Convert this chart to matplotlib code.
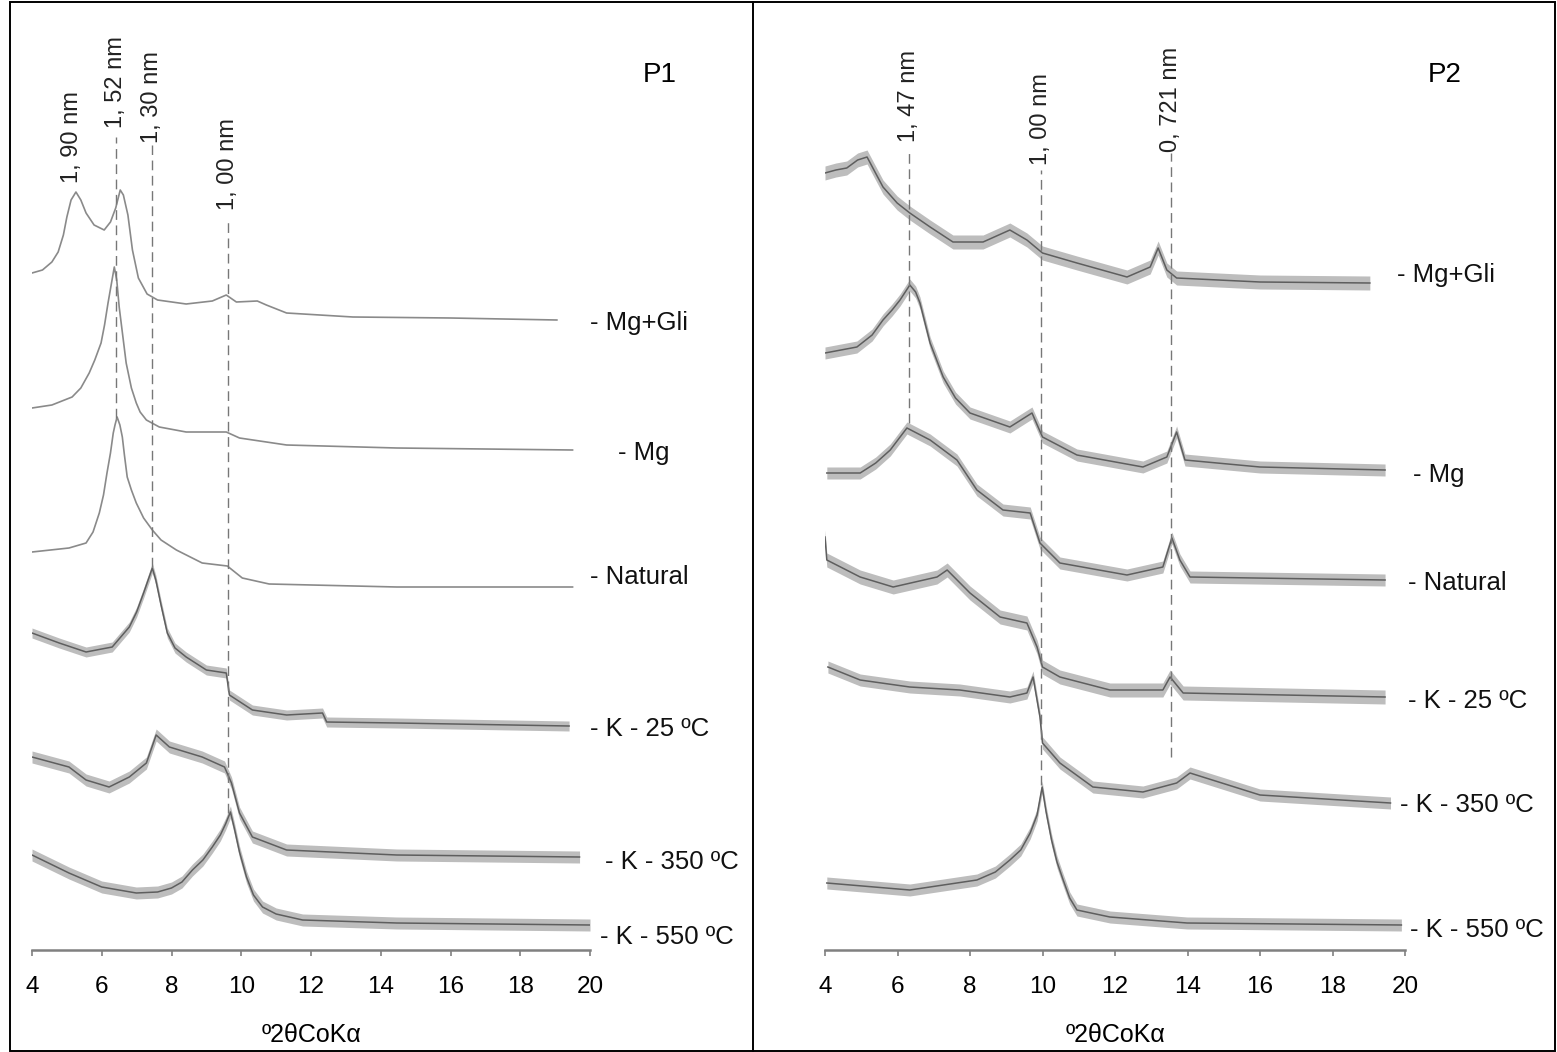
import matplotlib
matplotlib.use('Agg')
import matplotlib.pyplot as plt
from matplotlib.lines import Line2D
from matplotlib.patches import Rectangle

plt.rcParams['font.family'] = ['Liberation Sans', 'DejaVu Sans']

# P1 diffractograms (2theta CoKa, offset intensity in a.u.)
p1_mggli_2t = [4.0, 4.3, 4.57, 4.75, 4.9, 5.0, 5.12, 5.26, 5.4, 5.55, 5.78, 6.07, 6.25, 6.4,
               6.53, 6.62, 6.75, 6.88, 7.05, 7.3, 7.6, 8.42, 9.17, 9.57, 9.86, 10.46, 10.72,
               11.30, 13.2, 16.0, 19.05]
p1_mggli_i = [677, 680, 688, 698, 715, 733, 750, 758, 750, 737, 725, 720, 728, 742,
              760, 755, 735, 700, 672, 656, 650, 646, 649, 655, 648, 649, 645,
              637, 633, 632, 630]

p1_mg_2t = [4.0, 4.57, 5.15, 5.4, 5.64, 5.8, 5.98, 6.08, 6.18, 6.27, 6.36, 6.43, 6.50, 6.6,
            6.70, 6.85, 6.99, 7.1, 7.28, 7.65, 8.42, 9.57, 9.95, 11.3, 14.46, 19.5]
p1_mg_i = [542, 545, 553, 562, 577, 590, 607, 625, 647, 665, 683, 670, 643, 615,
           587, 562, 547, 538, 530, 523, 518, 518, 512, 505, 502, 500]

p1_nat_2t = [4.0, 5.06, 5.55, 5.75, 5.93, 6.05, 6.15, 6.25, 6.33, 6.38, 6.44, 6.52, 6.59,
             6.65, 6.73, 6.85, 6.99, 7.2, 7.45, 7.7, 8.14, 8.88, 9.6, 10.03, 10.8, 14.46, 19.5]
p1_nat_i = [398, 402, 407, 418, 437, 455, 477, 497, 517, 525, 533, 525, 513,
            495, 473, 460, 447, 432, 420, 410, 400, 387, 384, 372, 366, 363, 363]

p1_k25_2t = [4.0, 4.78, 5.55, 6.3, 6.79, 7.0, 7.2, 7.35, 7.45, 7.55, 7.7, 7.88, 8.1, 8.42,
             9.0, 9.57, 9.66, 10.32, 11.3, 12.33, 12.45, 14.46, 19.4]
p1_k25_i = [317, 307, 298, 303, 323, 338, 357, 372, 382, 370, 345, 317, 302, 293,
            280, 277, 255, 240, 235, 237, 228, 227, 224]

p1_k350_2t = [4.0, 5.06, 5.55, 6.21, 6.79, 7.28, 7.56, 7.94, 8.88, 9.52, 9.72, 9.95, 10.32,
              11.3, 14.46, 19.7]
p1_k350_i = [193, 183, 170, 163, 173, 187, 215, 203, 193, 183, 167, 137, 113, 100, 95, 93]

p1_k550_2t = [4.0, 5.06, 6.0, 6.99, 7.6, 8.0, 8.3, 8.6, 8.9, 9.17, 9.4, 9.55, 9.69, 9.8, 9.95,
              10.15, 10.35, 10.61, 11.0, 11.76, 14.46, 20.0]
p1_k550_i = [95, 77, 63, 57, 58, 62, 68, 80, 90, 103, 115, 126, 138, 122, 98,
             73, 55, 43, 36, 30, 27, 25]

# P2 diffractograms
p2_mggli_2t = [4.0, 4.3, 4.6, 4.9, 5.16, 5.35, 5.6, 5.99, 6.34, 6.9, 7.53, 8.36, 9.1, 9.57,
               10.0, 10.95, 12.33, 12.97, 13.19, 13.43, 13.7, 16.0, 19.03]
p2_mggli_i = [777, 780, 782, 790, 793, 780, 763, 747, 737, 723, 708, 708, 720, 710,
              697, 687, 673, 683, 702, 680, 672, 668, 667]

p2_mg_2t = [4.0, 4.88, 5.3, 5.6, 5.85, 6.07, 6.34, 6.5, 6.62, 6.9, 7.26, 7.6, 8.0, 9.1, 9.71,
            10.0, 10.95, 12.77, 13.43, 13.7, 13.93, 16.0, 19.45]
p2_mg_i = [597, 603, 615, 630, 640, 650, 665, 658, 647, 607, 573, 552, 537, 523, 537,
           513, 495, 483, 493, 518, 490, 483, 480]

p2_nat_2t = [4.05, 4.97, 5.4, 5.8, 6.26, 6.9, 7.64, 8.19, 8.91, 9.66, 9.93, 10.48, 12.33,
             13.32, 13.57, 13.79, 14.07, 19.45]
p2_nat_i = [477, 477, 487, 500, 522, 510, 490, 460, 440, 437, 407, 387, 375,
            383, 412, 390, 373, 370]

p2_k25_2t = [4.0, 4.05, 4.97, 5.88, 7.09, 7.37, 8.0, 8.83, 9.57, 9.85, 10.0, 10.48, 11.86,
             13.32, 13.52, 13.88, 19.45]
p2_k25_i = [413, 390, 373, 363, 373, 380, 357, 333, 327, 303, 283, 273, 260, 260, 273, 257, 253]

p2_k350_2t = [4.08, 4.97, 6.34, 7.72, 9.1, 9.57, 9.74, 9.93, 10.0, 10.48, 11.39, 12.77, 13.7,
              14.07, 16.0, 19.6]
p2_k350_i = [283, 270, 263, 260, 253, 257, 273, 233, 207, 187, 163, 158, 167, 177, 155, 147]

p2_k550_2t = [4.05, 6.34, 8.19, 8.7, 9.1, 9.4, 9.66, 9.85, 9.99, 10.1, 10.25, 10.4, 10.57,
              10.75, 10.95, 11.86, 13.99, 19.9]
p2_k550_i = [67, 60, 70, 78, 90, 100, 117, 135, 163, 138, 110, 88, 70,
             52, 40, 33, 27, 25]

treatments = ['- Mg+Gli', '- Mg', '- Natural', '- K - 25 ºC', '- K - 350 ºC', '- K - 550 ºC']

# basal spacings marked on each panel: label, 2theta, top and bottom of the guide line
p1_peaks = ['1, 90 nm', '1, 52 nm', '1, 30 nm', '1, 00 nm']
p1_peak_2t = [5.15, 6.41, 7.45, 9.63]
p1_guide_top = [None, 813, 805, 732]
p1_guide_bot = [None, 532, 383, 137]

p2_peaks = ['1, 47 nm', '1, 00 nm', '0, 721 nm']
p2_peak_2t = [6.32, 9.96, 13.55]
p2_guide_top = [802, 780, 797]
p2_guide_bot = [527, 165, 193]

W, H = 1557, 1052
fig = plt.figure(figsize=(W / 100, H / 100), dpi=100)

# outer frame and divider
fig.add_artist(Rectangle((10 / W, 1 / H), 1545 / W, 1049 / H, transform=fig.transFigure,
                         fill=False, ec='black', lw=1.4))
fig.add_artist(Line2D([753 / W, 753 / W], [1 / H, 1050 / H], transform=fig.transFigure,
                      color='black', lw=1.4))


def panel(rect, traces, fuzz, lab_pos, peaks, peak_2t, lab_bot, g_top, g_bot, title, title_pos):
    ax = fig.add_axes(rect)
    ax.set_xlim(4, 20)
    ax.set_ylim(0, 940)
    for (x, y), f in zip(traces, fuzz):
        if f > 2:
            ax.fill_between(x, [v - f for v in y], [v + f for v in y], color='#bdbdbd', lw=0)
            ax.plot(x, y, color='#5e5e5e', lw=1.1)
        else:
            ax.plot(x, y, color='#8a8a8a', lw=1.2)
    for name, (lx, ly) in zip(treatments, lab_pos):
        ax.text(lx, ly, name, fontsize=18.5, va='center', ha='left', color='#111111')
    for lab, x, b, top, bot in zip(peaks, peak_2t, lab_bot, g_top, g_bot):
        ax.text(x, b, lab, rotation=90, ha='center', va='bottom', fontsize=17, color='#222222')
        if top is not None:
            ax.plot([x, x], [bot, top], color='#777777', lw=1, ls=(0, (7, 4)))
    ax.text(title_pos[0], title_pos[1], title, fontsize=20, ha='center', va='center')

    for s in ['left', 'right', 'top']:
        ax.spines[s].set_visible(False)
    ax.spines['bottom'].set_color('#808080')
    ax.spines['bottom'].set_linewidth(1.8)
    ax.set_yticks([])
    ax.set_xticks(range(4, 21, 2))
    ax.tick_params(axis='x', direction='out', length=4, width=1.2, color='#808080',
                   labelsize=17.5, pad=15)
    ax.set_xlabel('º2θCoKα', fontsize=18, labelpad=18)
    return ax


panel([32 / W, 102 / H, 558 / W, 940 / H],
      [(p1_mggli_2t, p1_mggli_i), (p1_mg_2t, p1_mg_i), (p1_nat_2t, p1_nat_i),
       (p1_k25_2t, p1_k25_i), (p1_k350_2t, p1_k350_i), (p1_k550_2t, p1_k550_i)],
      [1.5, 1.5, 0.8, 5, 6, 6],
      [(20.0, 627), (20.8, 497), (20.0, 373), (20.0, 221), (20.43, 88), (20.29, 13)],
      p1_peaks, p1_peak_2t, [767, 822, 807, 740], p1_guide_top, p1_guide_bot,
      'P1', (22.0, 875))

panel([825 / W, 102 / H, 580 / W, 940 / H],
      [(p2_mggli_2t, p2_mggli_i), (p2_mg_2t, p2_mg_i), (p2_nat_2t, p2_nat_i),
       (p2_k25_2t, p2_k25_i), (p2_k350_2t, p2_k350_i), (p2_k550_2t, p2_k550_i)],
      [7, 6, 6, 7, 6, 6],
      [(19.78, 675), (20.22, 475), (20.08, 367), (20.08, 249), (19.86, 145), (20.14, 20)],
      p2_peaks, p2_peak_2t, [808, 785, 798], p2_guide_top, p2_guide_bot,
      'P2', (21.1, 875))

fig.savefig('out.png', dpi=100, facecolor='white')
